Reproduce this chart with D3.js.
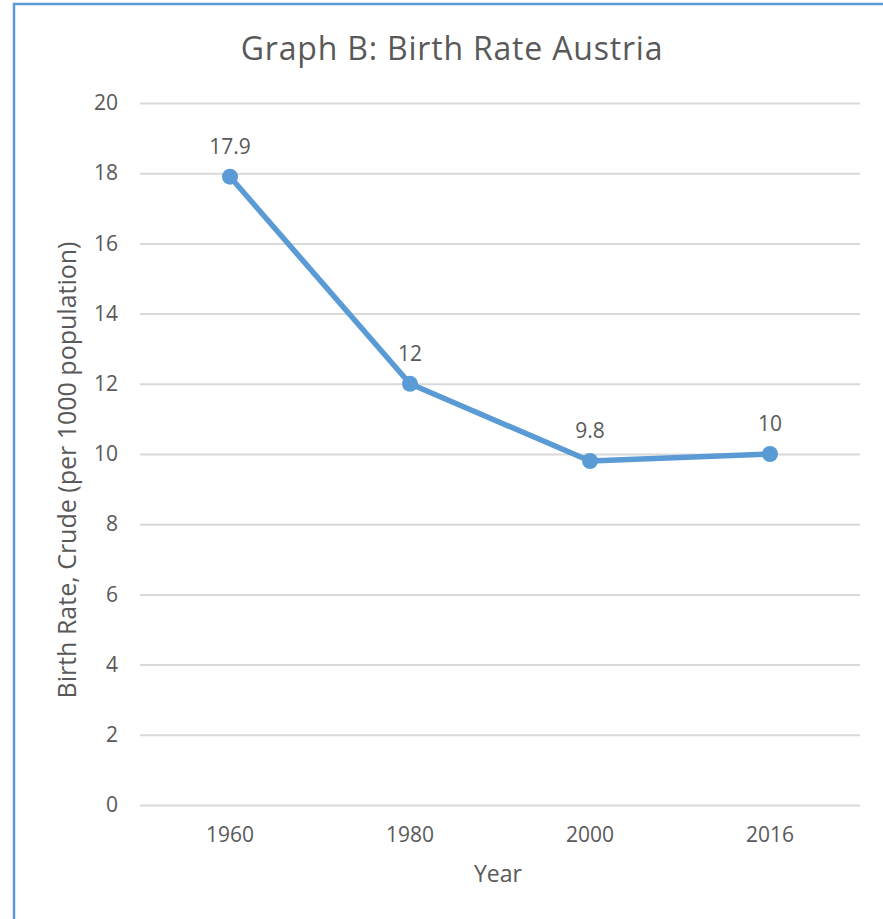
<!DOCTYPE html>
<html><head><meta charset="utf-8">
<script src="https://cdn.jsdelivr.net/npm/d3@7"></script>
<style>body{margin:0;background:#fff}svg{display:block}text{font-family:"Open Sans",sans-serif;fill:#595959}</style>
</head><body>
<svg id="c" width="883" height="919"></svg>
<script>
const categories = ["1960","1980","2000","2016"];
const values = [17.9, 12, 9.8, 10];
const yTicks = [0,2,4,6,8,10,12,14,16,18,20];
const title = "Graph B: Birth Rate Austria";
const xTitle = "Year";
const yTitle = "Birth Rate, Crude (per 1000 population)";

const svg = d3.select("#c");
svg.append("rect").attr("x",14).attr("y",4).attr("width",900).attr("height",950)
  .attr("fill","#fff").attr("stroke","#5B9BD5").attr("stroke-width",2.5);

const m = {left:140, right:860, top:103, bottom:805};
const x = d3.scaleBand().domain(categories).range([m.left,m.right]);
const y = d3.scaleLinear().domain([0,20]).range([m.bottom,m.top]);

const ya = svg.append("g").attr("transform",`translate(${m.left},0)`)
  .call(d3.axisLeft(y).tickValues(yTicks).tickSize(-(m.right-m.left)).tickPadding(22));
ya.select(".domain").remove();
ya.selectAll("line").attr("stroke","#d9d9d9").attr("stroke-width",2);
ya.selectAll("text").attr("font-size",21).attr("fill","#595959").attr("font-family","Open Sans");

const xa = svg.append("g").attr("transform",`translate(0,${m.bottom})`)
  .call(d3.axisBottom(x).tickSize(0).tickPadding(22));
xa.select(".domain").remove();
xa.selectAll("text").attr("font-size",21).attr("fill","#595959").attr("font-family","Open Sans");

svg.append("text").attr("x",452).attr("y",60).attr("text-anchor","middle")
  .attr("font-size",32).attr("letter-spacing",0.8).text(title);
svg.append("text").attr("x",498).attr("y",882).attr("text-anchor","middle")
  .attr("font-size",23).text(xTitle);
svg.append("text").attr("transform",`translate(76,470) rotate(-90)`)
  .attr("text-anchor","middle").attr("font-size",25).text(yTitle);

const cx = c => x(c)+x.bandwidth()/2;
const pts = categories.map((c,i)=>({c,v:values[i]}));
svg.append("path").datum(pts)
  .attr("d", d3.line().x(d=>cx(d.c)).y(d=>y(d.v)))
  .attr("fill","none").attr("stroke","#5B9BD5").attr("stroke-width",5.5).attr("stroke-linejoin","round");
svg.selectAll("circle.pt").data(pts).enter().append("circle")
  .attr("cx",d=>cx(d.c)).attr("cy",d=>y(d.v)).attr("r",8).attr("fill","#5B9BD5");
svg.selectAll("text.lbl").data(pts).enter().append("text")
  .attr("x",d=>cx(d.c)).attr("y",d=>y(d.v)-23).attr("text-anchor","middle")
  .attr("font-size",21).text(d=>d.v);
</script>
</body></html>
